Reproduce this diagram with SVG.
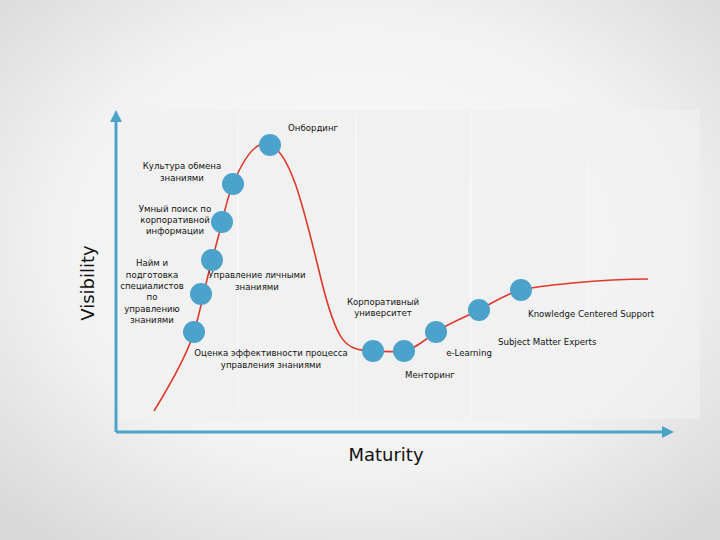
<svg xmlns="http://www.w3.org/2000/svg" width="720" height="540" viewBox="0 0 720 540">
<defs>
<radialGradient id="bg" cx="50%" cy="45%" r="70%">
<stop offset="0" stop-color="#fbfbfb"/>
<stop offset="0.6" stop-color="#f2f2f2"/>
<stop offset="1" stop-color="#d9d9d9"/>
</radialGradient>
<marker id="ah" viewBox="0 0 10 10" refX="5" refY="5" markerWidth="4" markerHeight="4" orient="auto">
<path d="M0,0 L10,5 L0,10 Z" fill="#4ba3c9"/>
</marker>
<style>
.panel{fill:#f1f1f1}
.axis{stroke:#4ba3c9;stroke-width:3;fill:none}
.curve{stroke:#e0392b;stroke-width:1.6;fill:none}
.dot{fill:#4ba3cb}
.lbl{font-family:"DejaVu Sans",sans-serif;font-size:8.6px;fill:#111}
.ax{font-family:"DejaVu Sans",sans-serif;font-size:18px;fill:#111}
</style>
</defs>
<rect width="720" height="540" fill="url(#bg)"/>
<g id="panels">
<rect class="panel" x="120" y="110" width="117" height="309"/>
<rect class="panel" x="239" y="110" width="116" height="309"/>
<rect class="panel" x="357" y="110" width="113" height="309"/>
<rect class="panel" x="472" y="110" width="114" height="309"/>
<rect class="panel" x="588" y="110" width="112" height="309" opacity="0.6"/>
</g>
<g id="connectors">
<line class="axis" x1="116" y1="432" x2="116" y2="116" marker-end="url(#ah)"/>
<line class="axis" x1="116" y1="432" x2="668" y2="432" marker-end="url(#ah)"/>
<path class="curve" d="M154,411 C170,385 187,355 194,332 S205,285 212,260 S219,235 222,222 S228,196 233,184 S252,140 268,144 C290,150 303,205 320,275 S345,350 373,351 S395,352 404,351 S425,340 436,332 S465,317 479,310 S505,294 521,290 S600,279 648,279"/>
</g>
<g id="axis-labels">
<text class="ax" x="386" y="461" text-anchor="middle">Maturity</text>
<text class="ax" transform="translate(94,283) rotate(-90)" text-anchor="middle">Visibility</text>
</g>
<g id="n1"><circle class="dot" cx="194" cy="332" r="11"/>
<text class="lbl" x="271" y="356" text-anchor="middle">Оценка эффективности процесса</text>
<text class="lbl" x="271" y="368" text-anchor="middle">управления знаниями</text></g>
<g id="n2"><circle class="dot" cx="201" cy="294" r="11"/>
<text class="lbl" x="152" y="266" text-anchor="middle">Найм и</text>
<text class="lbl" x="152" y="278" text-anchor="middle">подготовка</text>
<text class="lbl" x="152" y="289" text-anchor="middle">специалистов</text>
<text class="lbl" x="152" y="300" text-anchor="middle">по</text>
<text class="lbl" x="152" y="312" text-anchor="middle">управлению</text>
<text class="lbl" x="152" y="323" text-anchor="middle">знаниями</text></g>
<g id="n3"><circle class="dot" cx="212" cy="260" r="11"/>
<text class="lbl" x="257" y="278" text-anchor="middle">Управление личными</text>
<text class="lbl" x="257" y="290" text-anchor="middle">знаниями</text></g>
<g id="n4"><circle class="dot" cx="222" cy="222" r="11"/>
<text class="lbl" x="175" y="212" text-anchor="middle">Умный поиск по</text>
<text class="lbl" x="175" y="223" text-anchor="middle">корпоративной</text>
<text class="lbl" x="175" y="234" text-anchor="middle">информации</text></g>
<g id="n5"><circle class="dot" cx="233" cy="184" r="11"/>
<text class="lbl" x="182" y="169" text-anchor="middle">Культура обмена</text>
<text class="lbl" x="182" y="181" text-anchor="middle">знаниями</text></g>
<g id="n6"><circle class="dot" cx="270" cy="145" r="11"/>
<text class="lbl" x="288" y="131">Онбординг</text></g>
<g id="n7"><circle class="dot" cx="373" cy="351" r="11"/>
<text class="lbl" x="383" y="305" text-anchor="middle">Корпоративный</text>
<text class="lbl" x="383" y="316" text-anchor="middle">университет</text></g>
<g id="n8"><circle class="dot" cx="404" cy="351" r="11"/>
<text class="lbl" x="430" y="378" text-anchor="middle">Менторинг</text></g>
<g id="n9"><circle class="dot" cx="436" cy="332" r="11"/>
<text class="lbl" x="469" y="356" text-anchor="middle">e-Learning</text></g>
<g id="n10"><circle class="dot" cx="479" cy="310" r="11"/>
<text class="lbl" x="498" y="345">Subject Matter Experts</text></g>
<g id="n11"><circle class="dot" cx="521" cy="290" r="11"/>
<text class="lbl" x="528" y="317">Knowledge Centered Support</text></g>
</svg>
